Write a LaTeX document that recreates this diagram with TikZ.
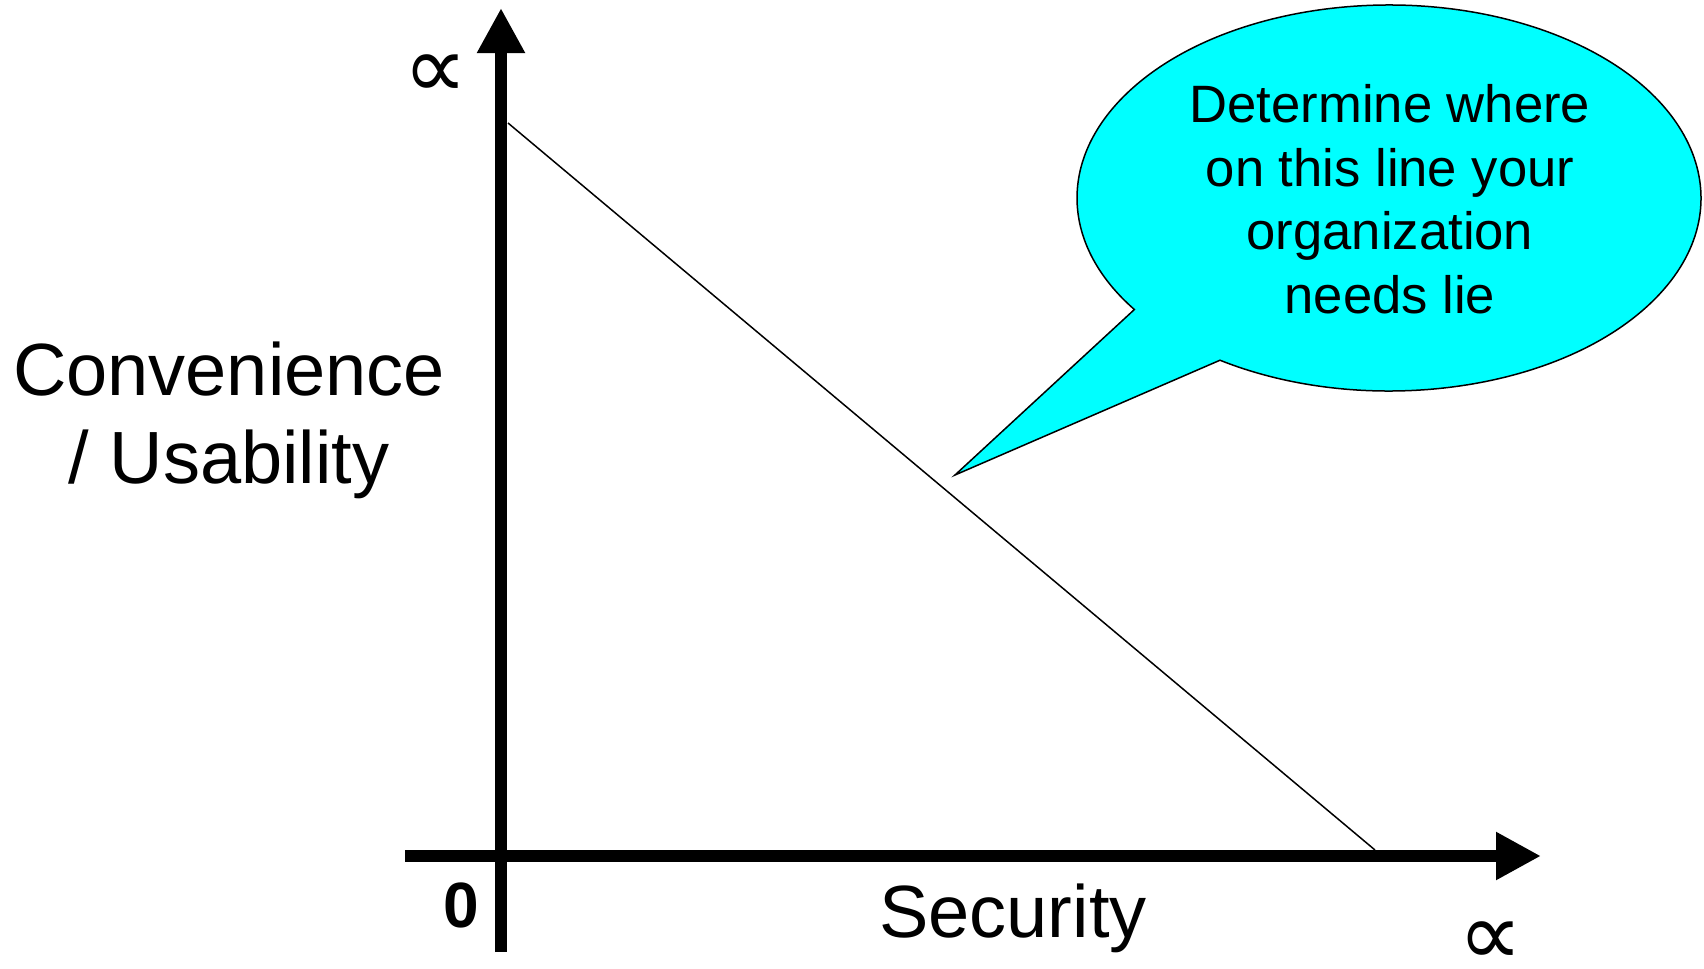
\documentclass[tikz,border=0pt]{standalone}
\usepackage{fontspec}
\setmainfont{Liberation Sans}
\newfontfamily\symfont{DejaVu Sans}
\usetikzlibrary{arrows.meta}
\definecolor{calloutcyan}{RGB}{0,255,255}
\begin{document}
\begin{tikzpicture}[x=0.5pt,y=-0.5pt,
  axisline/.style={line width=6pt,-{Triangle[length=22.5pt,width=22.5pt]}},
  bigtext/.style={font=\fontsize{37}{44}\selectfont,align=center,inner sep=0pt,anchor=base},
  calltext/.style={font=\fontsize{26.3}{31.75}\selectfont,align=center,inner sep=0pt,anchor=base},
  symtext/.style={font=\symfont\fontsize{45}{54}\selectfont,inner sep=0pt},
  tradeoff/.style={line width=0.75pt},
  balloon/.style={draw=black,line width=0.75pt,fill=calloutcyan,line join=miter}]
\useasboundingbox (0,0) rectangle (1704,969);
% axes
\coordinate (ybot) at (501,952);
\coordinate (ytop) at (501,8);
\coordinate (xleft) at (405,856);
\coordinate (xright) at (1541,856);
\draw[axisline] (ybot) -- (ytop);
\draw[axisline] (xleft) -- (xright);
% trade-off line
\coordinate (lineA) at (508,123);
\coordinate (lineB) at (1375,850);
\draw[tradeoff] (lineA) -- (lineB);
% callout
\coordinate (cc) at (1389,198);
\coordinate (tip) at (955,475);
\draw[balloon] ([shift={(122.8:312 and 193)}]cc) arc[start angle=122.8,end angle=-215.3,x radius=312,y radius=193] -- (tip) -- cycle;
\node[calltext] (calltxt) at (1390,313) {Determine where\\on this line your\\organization\\needs lie};
% labels
\node[bigtext] (ylabel) at (229,483) {Convenience\\/ Usability};
\node[bigtext] (xlabel) at (1013,937) {Security};
\node[font=\bfseries\fontsize{32}{38}\selectfont,inner sep=0pt,anchor=base] (zero) at (461,927) {0};
\node[symtext] (yinf) at (436,77) {∝};
\node[symtext] (xinf) at (1491,944) {∝};
\end{tikzpicture}
\end{document}
